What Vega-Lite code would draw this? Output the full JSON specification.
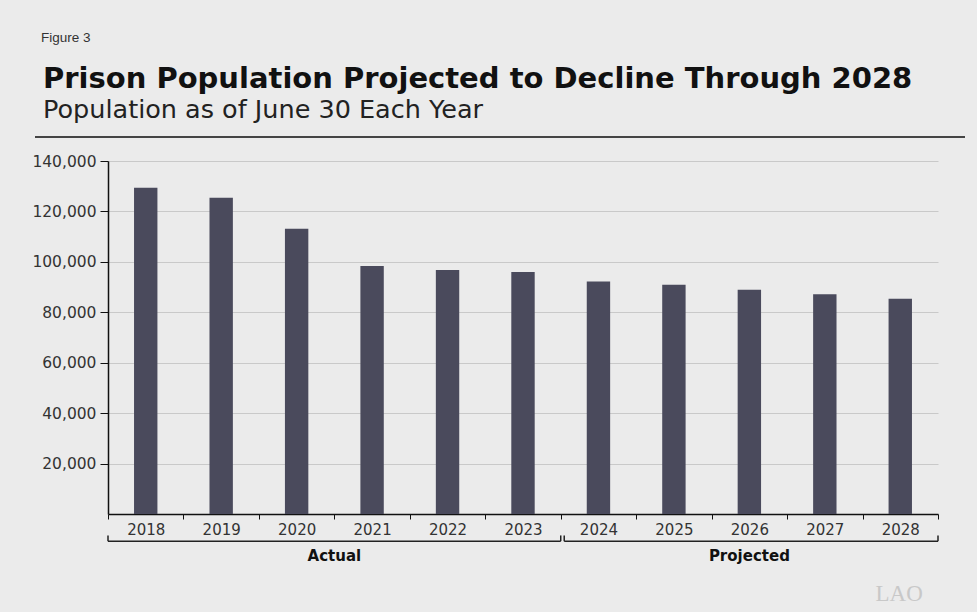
{
  "$schema": "https://vega.github.io/schema/vega-lite/v6.json",
  "width": 830,
  "height": 353,
  "autosize": {"type": "none"},
  "padding": {"left": 108, "top": 161, "right": 39, "bottom": 98},
  "background": "#ebebeb",
  "config": {"view": {"stroke": null}, "font": "DejaVu Sans"},
  "title": {
    "text": "Prison Population Projected to Decline Through 2028",
    "subtitle": "Population as of June 30 Each Year",
    "anchor": "start",
    "frame": "group",
    "dx": -65,
    "offset": -92,
    "font": "DejaVu Sans",
    "fontSize": 29,
    "fontWeight": "bold",
    "color": "#111111",
    "subtitleFont": "DejaVu Sans",
    "subtitleFontSize": 25.5,
    "subtitleColor": "#222222",
    "subtitlePadding": 4
  },
  "datasets": {
    "pop": [
      {"year": "2018", "population": 129400},
      {"year": "2019", "population": 125400},
      {"year": "2020", "population": 113100},
      {"year": "2021", "population": 98400},
      {"year": "2022", "population": 96800},
      {"year": "2023", "population": 96000},
      {"year": "2024", "population": 92200},
      {"year": "2025", "population": 90900},
      {"year": "2026", "population": 88900},
      {"year": "2027", "population": 87200},
      {"year": "2028", "population": 85400}
    ],
    "groups": [
      {"group": "Actual", "start": "2018", "end": "2023", "labelAt": "2021"},
      {"group": "Projected", "start": "2024", "end": "2028", "labelAt": "2026"}
    ],
    "notes": [{"label": "Figure 3", "first": "2018", "last": "2028"}]
  },
  "layer": [
    {
      "data": {"name": "pop"},
      "mark": {"type": "bar", "width": {"band": 0.31}, "color": "#4a4a5c"},
      "encoding": {
        "x": {
          "field": "year",
          "type": "ordinal",
          "scale": {
            "domain": ["2018", "2019", "2020", "2021", "2022", "2023", "2024", "2025", "2026", "2027", "2028"],
            "paddingInner": 0,
            "paddingOuter": 0
          },
          "axis": {
            "tickBand": "extent",
            "labelAngle": 0,
            "labelFontSize": 15,
            "labelColor": "#333333",
            "labelPadding": 3,
            "tickSize": 5,
            "tickColor": "#111111",
            "domainColor": "#111111",
            "domainWidth": 1.5,
            "grid": false,
            "title": "LAO",
            "titleFont": "Liberation Serif",
            "titleFontSize": 23,
            "titleFontWeight": "normal",
            "titleColor": "#c8c8c8",
            "titleAlign": "left",
            "titleBaseline": "alphabetic",
            "titleX": 767,
            "titleY": 86
          }
        },
        "y": {
          "field": "population",
          "type": "quantitative",
          "scale": {"domain": [0, 140000], "nice": false},
          "axis": {
            "values": [20000, 40000, 60000, 80000, 100000, 120000, 140000],
            "format": ",d",
            "labelFontSize": 15.5,
            "labelColor": "#333333",
            "labelPadding": 4,
            "tickSize": 8,
            "tickColor": "#111111",
            "domainColor": "#111111",
            "domainWidth": 1.5,
            "gridColor": "#c9c9c9",
            "gridWidth": 1,
            "title": null
          }
        }
      }
    },
    {
      "data": {"name": "groups"},
      "transform": [{"filter": "datum.group === 'Actual'"}],
      "mark": {"type": "rule", "color": "#222222", "strokeWidth": 1.5},
      "encoding": {
        "x": {"field": "start", "type": "ordinal", "bandPosition": 0},
        "x2": {"field": "end", "bandPosition": 1},
        "y": {"datum": -10770, "type": "quantitative"}
      }
    },
    {
      "data": {"name": "groups"},
      "transform": [{"filter": "datum.group === 'Projected'"}],
      "mark": {"type": "rule", "color": "#222222", "strokeWidth": 1.5, "xOffset": 3.5},
      "encoding": {
        "x": {"field": "start", "type": "ordinal", "bandPosition": 0},
        "x2": {"field": "end", "bandPosition": 1},
        "y": {"datum": -10770, "type": "quantitative"}
      }
    },
    {
      "data": {"name": "groups"},
      "transform": [{"filter": "datum.group === 'Actual'"}],
      "mark": {"type": "rule", "color": "#222222", "strokeWidth": 1.5},
      "encoding": {
        "x": {"field": "start", "type": "ordinal", "bandPosition": 0},
        "y": {"datum": -10770, "type": "quantitative"},
        "y2": {"datum": -8500}
      }
    },
    {
      "data": {"name": "groups"},
      "transform": [{"filter": "datum.group === 'Projected'"}],
      "mark": {"type": "rule", "color": "#222222", "strokeWidth": 1.5, "xOffset": 3.5},
      "encoding": {
        "x": {"field": "start", "type": "ordinal", "bandPosition": 0},
        "y": {"datum": -10770, "type": "quantitative"},
        "y2": {"datum": -8500}
      }
    },
    {
      "data": {"name": "groups"},
      "mark": {"type": "rule", "color": "#222222", "strokeWidth": 1.5},
      "encoding": {
        "x": {"field": "end", "type": "ordinal", "bandPosition": 1},
        "y": {"datum": -10770, "type": "quantitative"},
        "y2": {"datum": -8500}
      }
    },
    {
      "data": {"name": "groups"},
      "transform": [{"filter": "datum.group === 'Actual'"}],
      "mark": {"type": "text", "font": "DejaVu Sans", "fontSize": 15, "fontWeight": "bold", "color": "#111111", "baseline": "alphabetic"},
      "encoding": {
        "x": {"field": "labelAt", "type": "ordinal", "bandPosition": 0},
        "y": {"datum": -18700, "type": "quantitative"},
        "text": {"field": "group"}
      }
    },
    {
      "data": {"name": "groups"},
      "transform": [{"filter": "datum.group === 'Projected'"}],
      "mark": {"type": "text", "font": "DejaVu Sans", "fontSize": 15, "fontWeight": "bold", "color": "#111111", "baseline": "alphabetic"},
      "encoding": {
        "x": {"field": "labelAt", "type": "ordinal", "bandPosition": 0.5},
        "y": {"datum": -18700, "type": "quantitative"},
        "text": {"field": "group"}
      }
    },
    {
      "data": {"name": "notes"},
      "mark": {"type": "rule", "color": "#444444", "strokeWidth": 2, "xOffset": -73, "x2Offset": 27},
      "encoding": {
        "x": {"field": "first", "type": "ordinal", "bandPosition": 0},
        "x2": {"field": "last", "bandPosition": 1},
        "y": {"datum": 149500, "type": "quantitative"}
      }
    },
    {
      "data": {"name": "notes"},
      "mark": {"type": "text", "font": "Liberation Sans", "fontSize": 13.5, "color": "#333333", "align": "left", "baseline": "alphabetic", "dx": -67},
      "encoding": {
        "x": {"field": "first", "type": "ordinal", "bandPosition": 0},
        "y": {"datum": 187100, "type": "quantitative"},
        "text": {"field": "label"}
      }
    }
  ]
}
